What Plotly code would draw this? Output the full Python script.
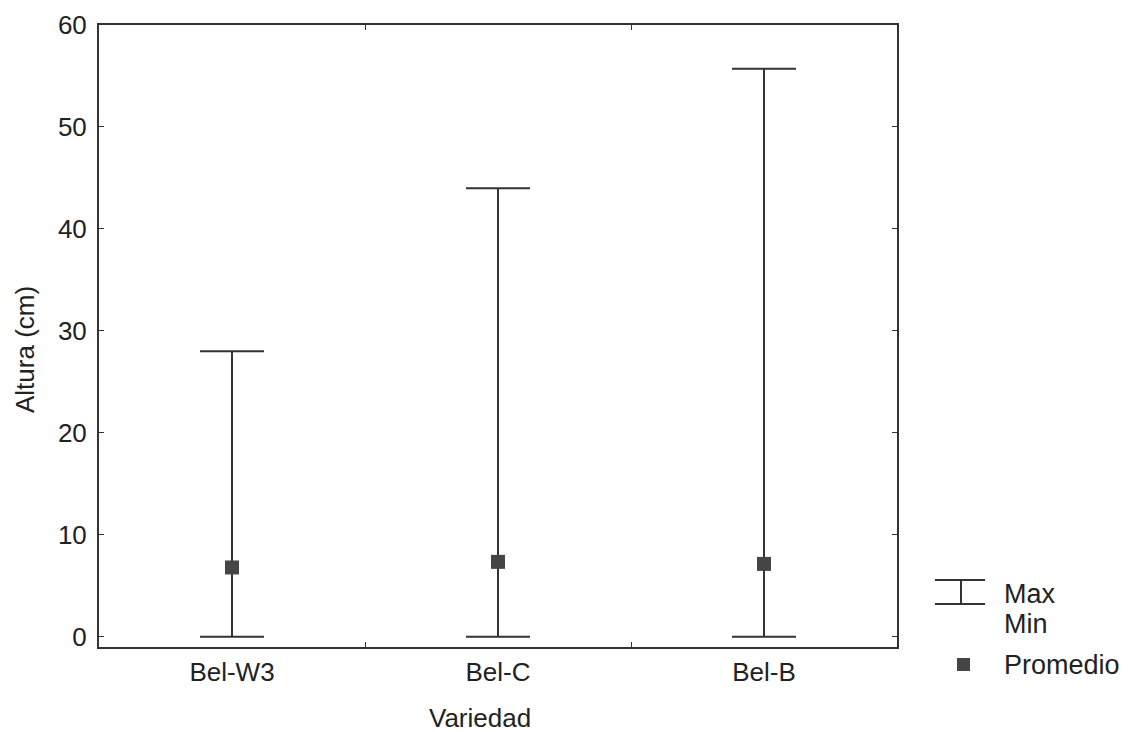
import plotly.graph_objects as go

categories = ["Bel-W3", "Bel-C", "Bel-B"]
max_vals = [28.0, 44.0, 55.7]
min_vals = [0.0, 0.0, 0.0]
mean_vals = [6.8, 7.35, 7.15]

FONT = "Liberation Sans, Arial, Helvetica, sans-serif"
INK = "#333333"
TXT = "#222222"
FS = 26

W, H = 1128, 732
OFF = 8  # page body offset
# desired plot box in screen pixels
L, R, T, B = 99, 897, 25, 647
ml, mt = L - OFF, T - OFF
mr, mb = W - (R - OFF), H - (B - OFF)
PW, PH = R - L, B - T

def pxp(x):
    return (x - L) / PW

def pyp(y):
    return (B - y) / PH

fig = go.Figure()
fig.add_trace(go.Scatter(
    x=categories, y=mean_vals, mode="markers",
    marker=dict(symbol="square", size=14, color="#454545"),
    error_y=dict(type="data", symmetric=False,
                 array=[mx - m for mx, m in zip(max_vals, mean_vals)],
                 arrayminus=[m - mn for m, mn in zip(mean_vals, min_vals)],
                 color=INK, thickness=2, width=32),
    showlegend=False, cliponaxis=False,
))

fig.update_layout(
    width=W, height=H,
    margin=dict(l=ml, r=mr, t=mt, b=mb, autoexpand=False),
    paper_bgcolor="white", plot_bgcolor="white",
    font=dict(family=FONT, size=FS, color=TXT),
    xaxis=dict(type="category", range=[-0.5, 2.5], showgrid=False,
               showline=True, linecolor=INK, linewidth=2, mirror="ticks",
               ticks="inside", tickson="boundaries", ticklen=5, tickcolor=INK,
               tickfont=dict(size=FS), zeroline=False, ticklabelstandoff=1,
               automargin=False),
    yaxis=dict(range=[-1, 60], tickvals=[0, 10, 20, 30, 40, 50, 60], showgrid=False,
               showline=True, linecolor=INK, linewidth=2, mirror="ticks",
               ticks="inside", ticklen=5, tickcolor=INK, zeroline=False,
               tickfont=dict(size=FS), ticklabelstandoff=5, automargin=False),
)

# Axis titles
fig.add_annotation(text="Variedad", xref="paper", yref="paper",
                   x=pxp(480), y=pyp(718), xanchor="center", yanchor="middle",
                   showarrow=False, font=dict(size=FS, family=FONT, color=TXT))
fig.add_annotation(text="Altura (cm)", xref="paper", yref="paper",
                   x=pxp(25), y=pyp(350), xanchor="center", yanchor="middle",
                   textangle=-90, showarrow=False,
                   font=dict(size=FS, family=FONT, color=TXT))

# Legend drawn manually
lx0, lx1, lxm = 935, 985, 961
ytop, ybot = 580, 604
for (a, b, c, d) in [(lx0, ytop, lx1, ytop), (lx0, ybot, lx1, ybot), (lxm, ytop, lxm, ybot)]:
    fig.add_shape(type="line", xref="paper", yref="paper",
                  x0=pxp(a), x1=pxp(c), y0=pyp(b), y1=pyp(d),
                  line=dict(color=INK, width=2))
fig.add_shape(type="rect", xref="paper", yref="paper",
              x0=pxp(957), x1=pxp(970), y0=pyp(671), y1=pyp(658),
              fillcolor="#454545", line=dict(width=0))
for txt, yy in [("Max", 594), ("Min", 624), ("Promedio", 665)]:
    fig.add_annotation(text=txt, xref="paper", yref="paper",
                       x=pxp(1002), y=pyp(yy),
                       xanchor="left", yanchor="middle", showarrow=False,
                       font=dict(size=27, family=FONT, color=TXT))

fig.write_html("out.html")
